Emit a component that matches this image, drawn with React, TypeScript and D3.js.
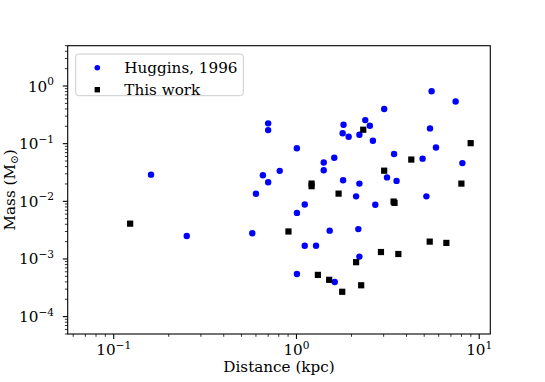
import React from "react";
import * as d3 from "d3";

// Huggins, 1996
const hugginsDist = [0.160, 0.251, 0.70, 0.70, 1.81, 1.79, 1.93, 1.005, 1.61, 1.41, 1.41, 0.81, 0.655, 0.70, 1.80, 0.60, 5.49, 7.43, 3.02, 2.38, 2.52, 2.21, 2.62, 5.38, 5.80, 3.42, 4.90, 8.09, 3.13, 3.53, 2.21, 2.12, 5.14, 2.70, 1.11, 1.006, 0.573, 1.52, 2.18, 1.11, 1.28, 2.21, 1.006, 1.62];
const hugginsMass = [0.029, 0.0025, 0.225, 0.172, 0.213, 0.152, 0.132, 0.0835, 0.057, 0.047, 0.0346, 0.0338, 0.0283, 0.0214, 0.0232, 0.0135, 0.81, 0.54, 0.40, 0.256, 0.205, 0.143, 0.112, 0.184, 0.086, 0.066, 0.055, 0.046, 0.026, 0.0226, 0.0203, 0.0122, 0.0122, 0.0087, 0.0088, 0.0063, 0.0028, 0.0031, 0.0033, 0.0017, 0.0017, 0.0011, 0.00055, 0.0004];

// This work
const thisDist = [0.123, 1.21, 1.21, 1.70, 2.32, 8.98, 4.25, 3.02, 7.99, 3.40, 3.44, 0.904, 5.36, 6.61, 2.90, 3.61, 2.12, 2.26, 1.31, 1.51, 1.78];
const thisMass = [0.0041, 0.0203, 0.0183, 0.0136, 0.1745, 0.102, 0.053, 0.034, 0.0203, 0.0099, 0.0094, 0.0030, 0.0020, 0.0019, 0.00132, 0.00122, 0.00088, 0.00035, 0.00053, 0.000435, 0.00027];

const xMajor = [0.1, 1, 10];
const xMajorExp = ["−1", "0", "1"];
const yMajor = [1e-4, 1e-3, 1e-2, 1e-1, 1];
const yMajorExp = ["−4", "−3", "−2", "−1", "0"];
const legendLabels = ["Huggins, 1996", "This work"];
const xLabel = "Distance (kpc)";
const yLabelMain = "Mass (M";

const W = 545, H = 382;
const L = 67.7, R = 490.3, T = 45.7, B = 334;
const FONT = "'DejaVu Serif', serif";
const FS = 15.2;
const SUP = 10.6;

function minorTicks(lo: number, hi: number) {
  const out: number[] = [];
  for (let e = -6; e <= 2; e++) {
    for (let k = 2; k <= 9; k++) {
      const v = k * Math.pow(10, e);
      if (v >= lo * 0.999 && v <= hi * 1.001) out.push(v);
    }
  }
  return out;
}

export default function App() {
  const x = d3.scaleLog().domain([0.056, 11.5]).range([L, R]);
  const y = d3.scaleLog().domain([5e-5, 5]).range([B, T]);
  const xMinor = minorTicks(0.056, 11.5);
  const yMinor = minorTicks(5e-5, 5);
  const sq = 6.2;
  const cr = 3.2;
  return (
    <svg width={W} height={H} style={{ display: "block", position: "absolute", left: 0, top: 0 }} fontFamily={FONT}>
      <rect x={0} y={0} width={W} height={H} fill="white" />
      <defs>
        <clipPath id="plotclip">
          <rect x={L} y={T} width={R - L} height={B - T} />
        </clipPath>
      </defs>
      <g clipPath="url(#plotclip)">
        {hugginsDist.map((d, i) => (
          <circle key={"h" + i} cx={x(d)} cy={y(hugginsMass[i])} r={cr} fill="#0000ff" />
        ))}
        {thisDist.map((d, i) => (
          <rect key={"t" + i} x={x(d) - sq / 2} y={y(thisMass[i]) - sq / 2} width={sq} height={sq} fill="#000" />
        ))}
      </g>
      {/* spines */}
      <rect x={L} y={T} width={R - L} height={B - T} fill="none" stroke="#000" strokeWidth={1.1} />
      {/* x ticks */}
      {xMinor.map((v, i) => (
        <line key={"xm" + i} x1={x(v)} x2={x(v)} y1={B} y2={B + 2.8} stroke="#000" strokeWidth={0.8} />
      ))}
      {xMajor.map((v, i) => (
        <g key={"xM" + i}>
          <line x1={x(v)} x2={x(v)} y1={B} y2={B + 4.9} stroke="#000" strokeWidth={1.1} />
          <text x={x(v)} y={355} textAnchor="middle" fontSize={FS} fill="#000">
            <tspan>10</tspan>
            <tspan dy={-6.5} fontSize={SUP}>{xMajorExp[i]}</tspan>
          </text>
        </g>
      ))}
      {/* y ticks */}
      {yMinor.map((v, i) => (
        <line key={"ym" + i} x1={L - 2.8} x2={L} y1={y(v)} y2={y(v)} stroke="#000" strokeWidth={0.8} />
      ))}
      {yMajor.map((v, i) => (
        <g key={"yM" + i}>
          <line x1={L - 4.9} x2={L} y1={y(v)} y2={y(v)} stroke="#000" strokeWidth={1.1} />
          <text x={54} y={y(v) + 5.5} textAnchor="end" fontSize={FS} fill="#000">
            <tspan>10</tspan>
            <tspan dy={-6.5} fontSize={SUP}>{yMajorExp[i]}</tspan>
          </text>
        </g>
      ))}
      {/* axis labels */}
      <text x={(L + R) / 2} y={372} textAnchor="middle" fontSize={FS} fill="#000">{xLabel}</text>
      <text transform={`translate(14.5,${(T + B) / 2}) rotate(-90)`} textAnchor="middle" fontSize={FS} fill="#000">
        <tspan>{yLabelMain}</tspan>
        <tspan dy={3} fontSize={SUP}>⊙</tspan>
        <tspan dy={-3}>)</tspan>
      </text>
      {/* legend */}
      <rect x={75.7} y={54} width={167.6} height={41.7} rx={3} ry={3} fill="white" fillOpacity={0.8} stroke="#cccccc" strokeWidth={1} />
      <circle cx={97.3} cy={67.7} r={2.8} fill="#0000ff" />
      <rect x={97.3 - 2.7} y={89.7 - 2.7} width={5.4} height={5.4} fill="#000" />
      <text x={124.3} y={73} fontSize={FS} fill="#000">{legendLabels[0]}</text>
      <text x={124.3} y={95} fontSize={FS} fill="#000">{legendLabels[1]}</text>
    </svg>
  );
}
